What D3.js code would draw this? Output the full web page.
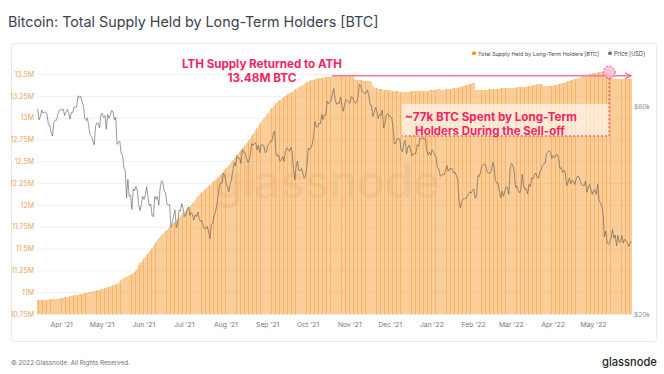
<!DOCTYPE html>
<html>
<head>
<meta charset="utf-8">
<script src="https://cdn.jsdelivr.net/npm/d3@7"></script>
<style>
  body { margin: 0; background: #fff; }
  svg { font-family: Inter, "Noto Sans", sans-serif; }
</style>
</head>
<body>
<svg id="chart" width="664" height="374"></svg>
<script>
// daily values, first day = 14 Mar 2021, last day = 29 May 2022
const startDate = new Date(Date.UTC(2021, 2, 14))

// LTH supply [M BTC], one row per month
const supply = [
  10.905,10.906,10.908,10.909,10.910,10.912,10.913,10.913,10.915,10.917,10.918,10.919,10.921,10.922,10.924,10.926,10.928,10.931,
  10.934,10.937,10.941,10.944,10.947,10.950,10.952,10.956,10.960,10.963,10.966,10.968,10.972,10.976,10.980,10.984,10.987,10.990,10.992,10.995,10.999,11.002,11.006,11.008,11.012,11.016,11.020,11.023,11.027,11.031,
  11.036,11.042,11.047,11.053,11.058,11.064,11.069,11.073,11.078,11.083,11.089,11.096,11.108,11.121,11.135,11.152,11.162,11.170,11.178,11.186,11.194,11.202,11.211,11.222,11.236,11.258,11.282,11.306,11.330,11.350,11.370,
  11.390,11.408,11.428,11.447,11.468,11.488,11.509,11.530,11.552,11.575,11.597,11.620,11.641,11.657,11.672,11.688,11.703,11.718,11.733,11.748,11.762,11.778,11.793,11.809,11.825,11.841,11.857,11.872,11.888,11.903,
  11.918,11.934,11.949,11.964,11.980,11.998,12.018,12.038,12.058,12.078,12.098,12.117,12.135,12.150,12.163,12.176,12.190,12.203,12.216,12.230,12.244,12.258,12.273,12.287,12.301,12.316,12.331,12.346,12.364,12.383,12.402,
  12.421,12.440,12.459,12.478,12.497,12.516,12.535,12.554,12.573,12.592,12.611,12.630,12.649,12.668,12.687,12.706,12.725,12.744,12.763,12.785,12.808,12.831,12.855,12.879,12.903,12.927,12.950,12.972,12.993,13.014,13.035,
  13.056,13.077,13.096,13.114,13.131,13.147,13.162,13.177,13.191,13.204,13.216,13.227,13.238,13.249,13.259,13.269,13.278,13.288,13.298,13.309,13.319,13.329,13.339,13.349,13.358,13.367,13.376,13.385,13.394,13.403,
  13.412,13.420,13.426,13.431,13.436,13.440,13.444,13.447,13.450,13.453,13.455,13.457,13.459,13.461,13.463,13.465,13.467,13.469,13.471,13.472,13.473,13.474,13.476,13.477,13.479,13.480,13.482,13.483,13.485,13.486,13.488,
  13.490,13.489,13.486,13.440,13.432,13.430,13.429,13.428,13.427,13.426,13.425,13.424,13.422,13.420,13.418,13.416,13.414,13.360,13.342,13.338,13.335,13.332,13.330,13.328,13.325,13.322,13.320,13.318,13.316,13.314,
  13.312,13.310,13.309,13.306,13.304,13.302,13.300,13.298,13.297,13.296,13.295,13.295,13.296,13.297,13.298,13.300,13.301,13.302,13.303,13.304,13.305,13.306,13.307,13.308,13.308,13.309,13.309,13.310,13.310,13.311,13.312,
  13.313,13.315,13.318,13.321,13.324,13.326,13.327,13.322,13.320,13.322,13.324,13.326,13.328,13.330,13.332,13.334,13.336,13.338,13.340,13.342,13.346,13.350,13.355,13.360,13.365,13.370,13.375,13.380,13.385,13.390,13.395,
  13.396,13.312,13.313,13.315,13.316,13.317,13.318,13.319,13.320,13.321,13.322,13.324,13.326,13.327,13.328,13.329,13.330,13.331,13.332,13.333,13.334,13.335,13.336,13.337,13.338,13.339,13.340,13.341,
  13.342,13.343,13.344,13.345,13.346,13.347,13.348,13.349,13.350,13.351,13.353,13.356,13.359,13.362,13.365,13.368,13.371,13.374,13.377,13.380,13.383,13.386,13.389,13.391,13.358,13.358,13.360,13.362,13.364,13.366,13.368,
  13.370,13.372,13.375,13.378,13.382,13.387,13.392,13.397,13.402,13.407,13.412,13.417,13.422,13.427,13.432,13.437,13.442,13.447,13.452,13.457,13.462,13.467,13.472,13.477,13.482,13.487,13.492,13.497,13.502,13.506,
  13.510,13.513,13.516,13.518,13.519,13.520,13.520,13.519,13.518,13.510,13.498,13.485,13.472,13.462,13.452,13.446,13.443,13.441,13.440,13.440,13.441,13.441,13.440,13.440,13.441,13.441,13.440,13.440,13.441
]

// BTC price [k USD], one row per month
const price = [
  59.3,55.9,56.8,58.9,57.9,58.3,58.1,57.4,54.5,54.3,52.3,51.3,55.2,55.8,55.8,57.6,58.8,58.9,
  59.0,59.1,57.2,58.2,59.1,58.0,56.1,58.1,58.1,59.8,59.8,59.9,63.5,62.9,63.3,61.5,60.3,56.2,55.7,56.5,53.8,51.7,51.1,50.0,49.0,54.0,55.0,54.9,53.6,57.7,
  57.8,56.6,57.2,53.2,57.5,56.4,57.4,58.8,58.2,55.8,56.7,49.1,49.7,49.9,46.8,46.4,43.5,42.9,37.0,40.8,37.3,37.5,34.8,38.8,38.4,39.3,38.5,35.7,34.6,35.7,37.3,
  36.7,37.6,39.2,36.9,35.5,35.8,33.6,33.5,37.3,36.7,37.3,35.6,39.1,40.5,40.1,38.3,38.1,35.8,35.6,35.7,31.7,32.5,33.7,34.7,31.6,32.2,34.7,34.5,35.9,35.0,
  33.5,33.8,34.7,35.3,33.7,34.2,33.9,32.9,33.8,33.5,34.3,33.1,32.7,32.8,31.8,31.4,31.5,31.8,30.8,29.8,32.1,32.3,33.6,34.3,35.4,37.3,39.4,40.0,40.0,42.2,41.6,
  39.9,39.2,38.2,39.7,40.9,42.8,44.6,43.8,46.3,45.6,45.6,44.4,47.8,47.1,47.0,45.9,44.7,44.7,46.8,49.3,48.9,49.3,49.5,47.7,48.9,47.0,49.0,48.9,48.8,47.0,47.2,
  48.8,49.3,50.0,49.9,51.8,52.7,46.9,46.1,46.4,44.9,45.2,46.0,44.9,47.1,48.2,47.8,47.3,48.3,47.3,43.0,40.7,43.6,44.9,42.8,42.7,43.2,42.2,41.0,41.5,43.8,
  48.1,47.7,48.2,49.2,51.5,55.4,53.8,53.9,54.9,54.7,57.5,56.0,57.4,57.3,61.7,60.9,61.5,62.0,64.3,66.0,62.2,60.7,61.3,60.9,63.1,60.3,58.5,60.6,62.3,61.9,61.3,
  61.0,63.2,62.9,61.4,61.0,61.5,63.3,67.6,67.0,64.9,64.9,64.2,64.4,65.5,63.6,60.4,60.4,56.9,58.1,59.7,58.7,56.3,57.6,57.2,58.9,53.6,54.8,57.3,57.8,57.0,
  56.9,56.5,53.6,49.2,49.4,50.6,50.6,50.5,47.7,47.2,49.4,50.1,46.7,48.4,48.9,47.6,46.2,46.8,46.7,46.9,49.0,48.6,50.8,50.4,50.8,50.6,50.7,47.5,46.5,47.1,46.3,
  47.7,47.3,46.4,45.9,43.5,43.1,41.5,41.7,41.9,41.8,42.7,43.9,42.6,43.1,43.2,43.1,42.2,42.4,41.7,40.7,36.5,35.1,36.3,36.7,36.9,36.8,37.2,37.7,38.2,37.9,38.5,
  38.7,36.9,37.3,41.6,41.4,42.4,43.8,44.1,44.3,43.6,42.4,42.2,42.1,42.6,44.6,43.9,40.6,40.0,40.1,38.4,37.0,38.3,37.3,38.3,39.2,39.1,37.7,43.2,
  44.4,44.0,42.5,39.1,39.4,38.4,38.0,38.7,41.9,39.4,38.7,38.8,37.8,39.7,39.3,41.1,40.9,41.8,42.2,41.3,41.0,42.4,42.9,44.0,44.3,44.5,46.8,47.1,47.5,47.1,45.5,
  46.3,45.8,46.4,46.6,45.5,43.2,43.4,42.3,42.8,42.2,39.5,40.1,41.1,39.9,40.5,40.4,39.7,40.8,41.5,41.4,40.5,39.7,39.5,39.5,40.4,38.1,39.2,39.7,38.6,37.7,
  38.5,38.5,37.7,39.7,36.6,36.0,35.5,34.1,30.1,31.0,29.1,28.9,29.3,29.9,31.3,29.9,30.4,28.7,30.3,29.2,29.4,30.3,29.1,29.7,29.5,29.2,28.6,29.0,29.4
]

const supplyTicks = [10.75, 11, 11.25, 11.5, 11.75, 12, 12.25, 12.5, 12.75, 13, 13.25, 13.5]
const priceTicks = [20, 60]
const monthTicks = ["2021-04-01","2021-05-01","2021-06-01","2021-07-01","2021-08-01","2021-09-01","2021-10-01",
  "2021-11-01","2021-12-01","2022-01-01","2022-02-01","2022-03-01","2022-04-01","2022-05-01"]

// annotation anchors
const athValue = 13.48
const athFrom = "2021-10-19"
const sellDate = "2022-05-13"
const sellTop = 13.52
const sellBottom = 12.79
const sellLeft = "2021-12-10"

const svg = d3.select("#chart")
const plot = {left: 37, right: 632, top: 74, bottom: 314}

const day = i => d3.utcDay.offset(startDate, i)
const x = d3.scaleUtc()
    .domain([startDate, day(supply.length)])
    .range([plot.left, plot.right])
const ySupply = d3.scaleLinear().domain([10.75, 13.5]).range([plot.bottom, plot.top])
const yPrice = d3.scaleLog().domain([20, 60]).range([plot.bottom, 106.5])
const step = x(day(1)) - x(day(0))

// squeeze text to a measured width
function fit(t, w) {
    const len = t.node().getComputedTextLength()
    t.attr("font-size", parseFloat(t.attr("font-size")) * w / len)
    return t
}

// title
fit(svg.append("text").attr("x", 8).attr("y", 27)
    .attr("font-size", 16).attr("fill", "#3b4250")
    .text("Bitcoin: Total Supply Held by Long-Term Holders [BTC]"), 371)

// frame
svg.append("rect").attr("x", 11.5).attr("y", 43.5).attr("width", 645).attr("height", 298)
    .attr("rx", 3).attr("fill", "none").attr("stroke", "#e8e8ea")

// legend
const leg = svg.append("g").attr("fill", "#444")
leg.append("circle").attr("cx", 474).attr("cy", 53.3).attr("r", 2).attr("fill", "#f7931a")
fit(leg.append("text").attr("x", 478).attr("y", 55.6).attr("font-size", 6.3)
    .text("Total Supply Held by Long-Term Holders [BTC]"), 121)
leg.append("circle").attr("cx", 610).attr("cy", 53.3).attr("r", 2).attr("fill", "#777")
fit(leg.append("text").attr("x", 614).attr("y", 55.6).attr("font-size", 6.3)
    .text("Price [USD]"), 31)

// grid + left axis
const gy = svg.append("g").attr("transform", `translate(${plot.left},0)`)
    .call(d3.axisLeft(ySupply).tickValues(supplyTicks).tickSize(-(plot.right - plot.left))
        .tickPadding(3).tickFormat(d => d + "M"))
gy.select(".domain").remove()
gy.selectAll(".tick line").attr("stroke", "#f0f0f2")
gy.selectAll(".tick text").attr("fill", "#eba35a").attr("font-size", 7)
    .attr("font-family", "Inter, sans-serif")

// watermark
fit(svg.append("text").attr("x", 214).attr("y", 198).attr("font-size", 50)
    .attr("fill", "#000").attr("opacity", 0.07).attr("font-weight", 500)
    .text("glassnode"), 226)

// supply bars (crisp edges so the slight overlaps show as stripes)
svg.append("g").attr("shape-rendering", "crispEdges")
  .selectAll("rect").data(supply).join("rect")
    .attr("x", (d, i) => x(day(i)))
    .attr("y", d => ySupply(d))
    .attr("width", step + 0.3)
    .attr("height", d => plot.bottom - ySupply(d))
    .attr("fill", "#f7a03c")
    .attr("fill-opacity", 0.53)

// price line
svg.append("path").datum(price)
    .attr("fill", "none").attr("stroke", "#555").attr("stroke-opacity", 0.75)
    .attr("stroke-width", 0.8).attr("stroke-linejoin", "round")
    .attr("d", d3.line().x((d, i) => x(day(i)) + step / 2).y(d => yPrice(d)))

// right axis
const gr = svg.append("g").attr("transform", `translate(${plot.right},0)`)
    .call(d3.axisRight(yPrice).tickValues(priceTicks).tickSize(0).tickPadding(2)
        .tickFormat(d => "$" + d + "k"))
gr.select(".domain").remove()
gr.selectAll(".tick text").attr("fill", "#8a8a8a").attr("font-size", 6.5)
    .attr("font-family", "Inter, sans-serif")

// x axis
const gx = svg.append("g").attr("transform", `translate(0,${plot.bottom})`)
    .call(d3.axisBottom(x).tickValues(monthTicks.map(d => new Date(d)))
        .tickSize(0).tickPadding(8).tickFormat(d3.utcFormat("%b '%y")))
gx.select(".domain").remove()
gx.selectAll(".tick text").attr("fill", "#777").attr("font-size", 6.8)
    .attr("font-family", "Inter, sans-serif")

// annotations
const pink = "#f2265f"
const ann = svg.append("g")
const yAth = ySupply(athValue)
ann.append("defs").append("marker").attr("id", "arr").attr("viewBox", "0 0 10 10")
    .attr("refX", 9).attr("refY", 5).attr("markerWidth", 5).attr("markerHeight", 5)
    .attr("orient", "auto")
    .append("path").attr("d", "M1,1 L9,5 L1,9").attr("fill", "none").attr("stroke", "#f06b95").attr("stroke-width", 1.6)
ann.append("line").attr("x1", x(new Date(athFrom))).attr("x2", plot.right - 1)
    .attr("y1", yAth).attr("y2", yAth)
    .attr("stroke", "#f27aa0").attr("stroke-width", 1.5).attr("marker-end", "url(#arr)")

const cx = x(new Date(sellDate))
const yTop = ySupply(sellTop), yBot = ySupply(sellBottom)
ann.append("rect").attr("x", x(new Date(sellLeft))).attr("y", 104)
    .attr("width", cx - x(new Date(sellLeft))).attr("height", yBot - 104)
    .attr("fill", "#fff").attr("opacity", 0.6)
ann.append("path")
    .attr("d", `M${cx},${yTop + 6} V${yBot} H${x(new Date(sellLeft))}`)
    .attr("fill", "none").attr("stroke", pink).attr("stroke-width", 1).attr("stroke-dasharray", "2,2")
ann.append("circle").attr("cx", cx).attr("cy", yTop).attr("r", 6)
    .attr("fill", "#f9b8cf").attr("fill-opacity", 0.8)
    .attr("stroke", pink).attr("stroke-width", 0.8).attr("stroke-dasharray", "2,1.5")

const tb = ann.append("g").attr("fill", pink).attr("font-weight", 700).attr("text-anchor", "middle")
fit(tb.append("text").attr("x", 262).attr("y", 67.5).attr("font-size", 12).text("LTH Supply Returned to ATH"), 160)
fit(tb.append("text").attr("x", 262).attr("y", 81.5).attr("font-size", 12).text("13.48M BTC"), 69)
fit(tb.append("text").attr("x", 491).attr("y", 121).attr("font-size", 12).text("~77k BTC Spent by Long-Term"), 172)
fit(tb.append("text").attr("x", 490).attr("y", 135).attr("font-size", 12).text("Holders During the Sell-off"), 150)

// footer
fit(svg.append("text").attr("x", 11).attr("y", 365).attr("font-size", 8).attr("fill", "#6f6f6f")
    .text("\u00a9 2022 Glassnode. All Rights Reserved."), 119)
fit(svg.append("text").attr("x", 602).attr("y", 366).attr("font-size", 14).attr("fill", "#1e1e1e")
    .attr("font-weight", 500).text("glassnode"), 55)
</script>
</body>
</html>
